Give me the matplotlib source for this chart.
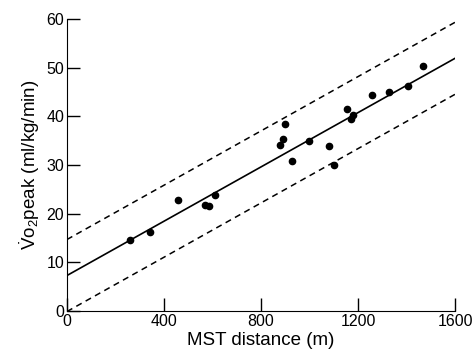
import numpy as np
import matplotlib
matplotlib.use('Agg')
import matplotlib.pyplot as plt

plt.rcParams['font.family'] = ['Liberation Sans', 'DejaVu Sans']
plt.rcParams['mathtext.fontset'] = 'custom'
plt.rcParams['mathtext.rm'] = 'Liberation Sans'
plt.rcParams['mathtext.it'] = 'Liberation Sans'

# MST distance (m) vs VO2peak (ml/kg/min)
distance = [261, 341, 456, 569, 584, 609, 878, 889, 898, 928, 999, 1079,
            1101, 1156, 1170, 1179, 1258, 1328, 1406, 1468]
vo2peak = [14.6, 16.2, 22.9, 21.8, 21.6, 23.8, 34.2, 35.3, 38.4, 30.8, 34.9,
           33.9, 30.1, 41.6, 39.4, 40.3, 44.5, 45.0, 46.3, 50.3]

# regression line and 95% limits
intercept = 7.3
slope = 0.0279
limit = 7.4

xticks = [0, 400, 800, 1200, 1600]
yticks = [0, 10, 20, 30, 40, 50, 60]

fig = plt.figure(figsize=(4.75, 3.6), dpi=100)
ax = fig.add_axes([0.141, 0.136, 0.817, 0.811])

xl = np.array([0, 1600])
fit = intercept + slope * xl
ax.plot(xl, fit, color='black', lw=1.2)
ax.plot(xl, fit + limit, color='black', lw=1.1, ls=(0, (4, 3)))
ax.plot(xl, fit - limit, color='black', lw=1.1, ls=(0, (4, 3)))
ax.plot(distance, vo2peak, 'o', color='black', ms=4.5, zorder=3)

ax.set_xlim(0, 1600)
ax.set_ylim(0, 60)
ax.set_xticks(xticks)
ax.set_yticks(yticks)
ax.tick_params(direction='in', length=9.5, width=1, labelsize=11.5, pad=2)
for s in ['top', 'right']:
    ax.spines[s].set_visible(False)
ax.set_xlabel('MST distance (m)', fontsize=13.5, labelpad=2)
ax.set_ylabel(r'$\dot{\mathrm{V}}$o$_2$peak (ml/kg/min)', fontsize=13.5, labelpad=3)

fig.savefig('out.png', dpi=100)
